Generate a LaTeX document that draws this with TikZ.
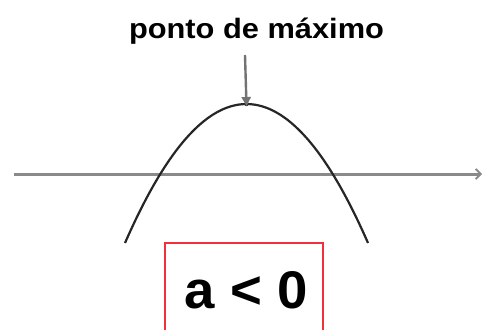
\documentclass[tikz,border=0pt]{standalone}
\usepackage{fontspec}
\setmainfont{Liberation Sans}
\usetikzlibrary{arrows.meta}
\definecolor{axisgray}{HTML}{8A8A8A}
\definecolor{boxred}{HTML}{F0303A}
\tikzset{
  axisline/.style={axisgray, line width=3pt, -{Straight Barb[length=5pt,width=10pt,line width=1.8pt]}},
  curveline/.style={black!85, line width=2.2pt},
  pointer/.style={black!55, line width=2.4pt, -{Triangle[length=9pt,width=9pt]}},
  redbox/.style={boxred, line width=1.4pt},
  bigtxt/.style={font=\bfseries\fontsize{53}{60}\selectfont, inner sep=0pt, anchor=base},
  titletxt/.style={font=\bfseries\fontsize{28}{32}\selectfont, inner sep=0pt, anchor=base}
}
\begin{document}
\begin{tikzpicture}[x=1pt,y=-1pt]
\useasboundingbox (0,0) rectangle (484,329);
\coordinate (xl) at (14,174);
\coordinate (xr) at (482,174);
\coordinate (cl) at (125,243);
\coordinate (cr) at (368,243);
\coordinate (vtx) at (246.5,104);
\coordinate (atop) at (245,55);
\node[titletxt, xscale=1.1] (title) at (256.5,38) {ponto de máximo};
\draw[axisline] (xl) -- (xr);
\draw[curveline] (cl) .. controls (206,57.7) and (287,57.7) .. (cr);
\fill[black!80] (vtx) circle (2.2pt);
\draw[pointer] (atop) -- ([yshift=-2pt]vtx);
\draw[redbox] (165,329.5) -- (165,243) -- (323,243) -- (323,329.5);
\node[bigtxt, xscale=1.03] (ineq) at (246,308) {a < 0};
\end{tikzpicture}
\end{document}
